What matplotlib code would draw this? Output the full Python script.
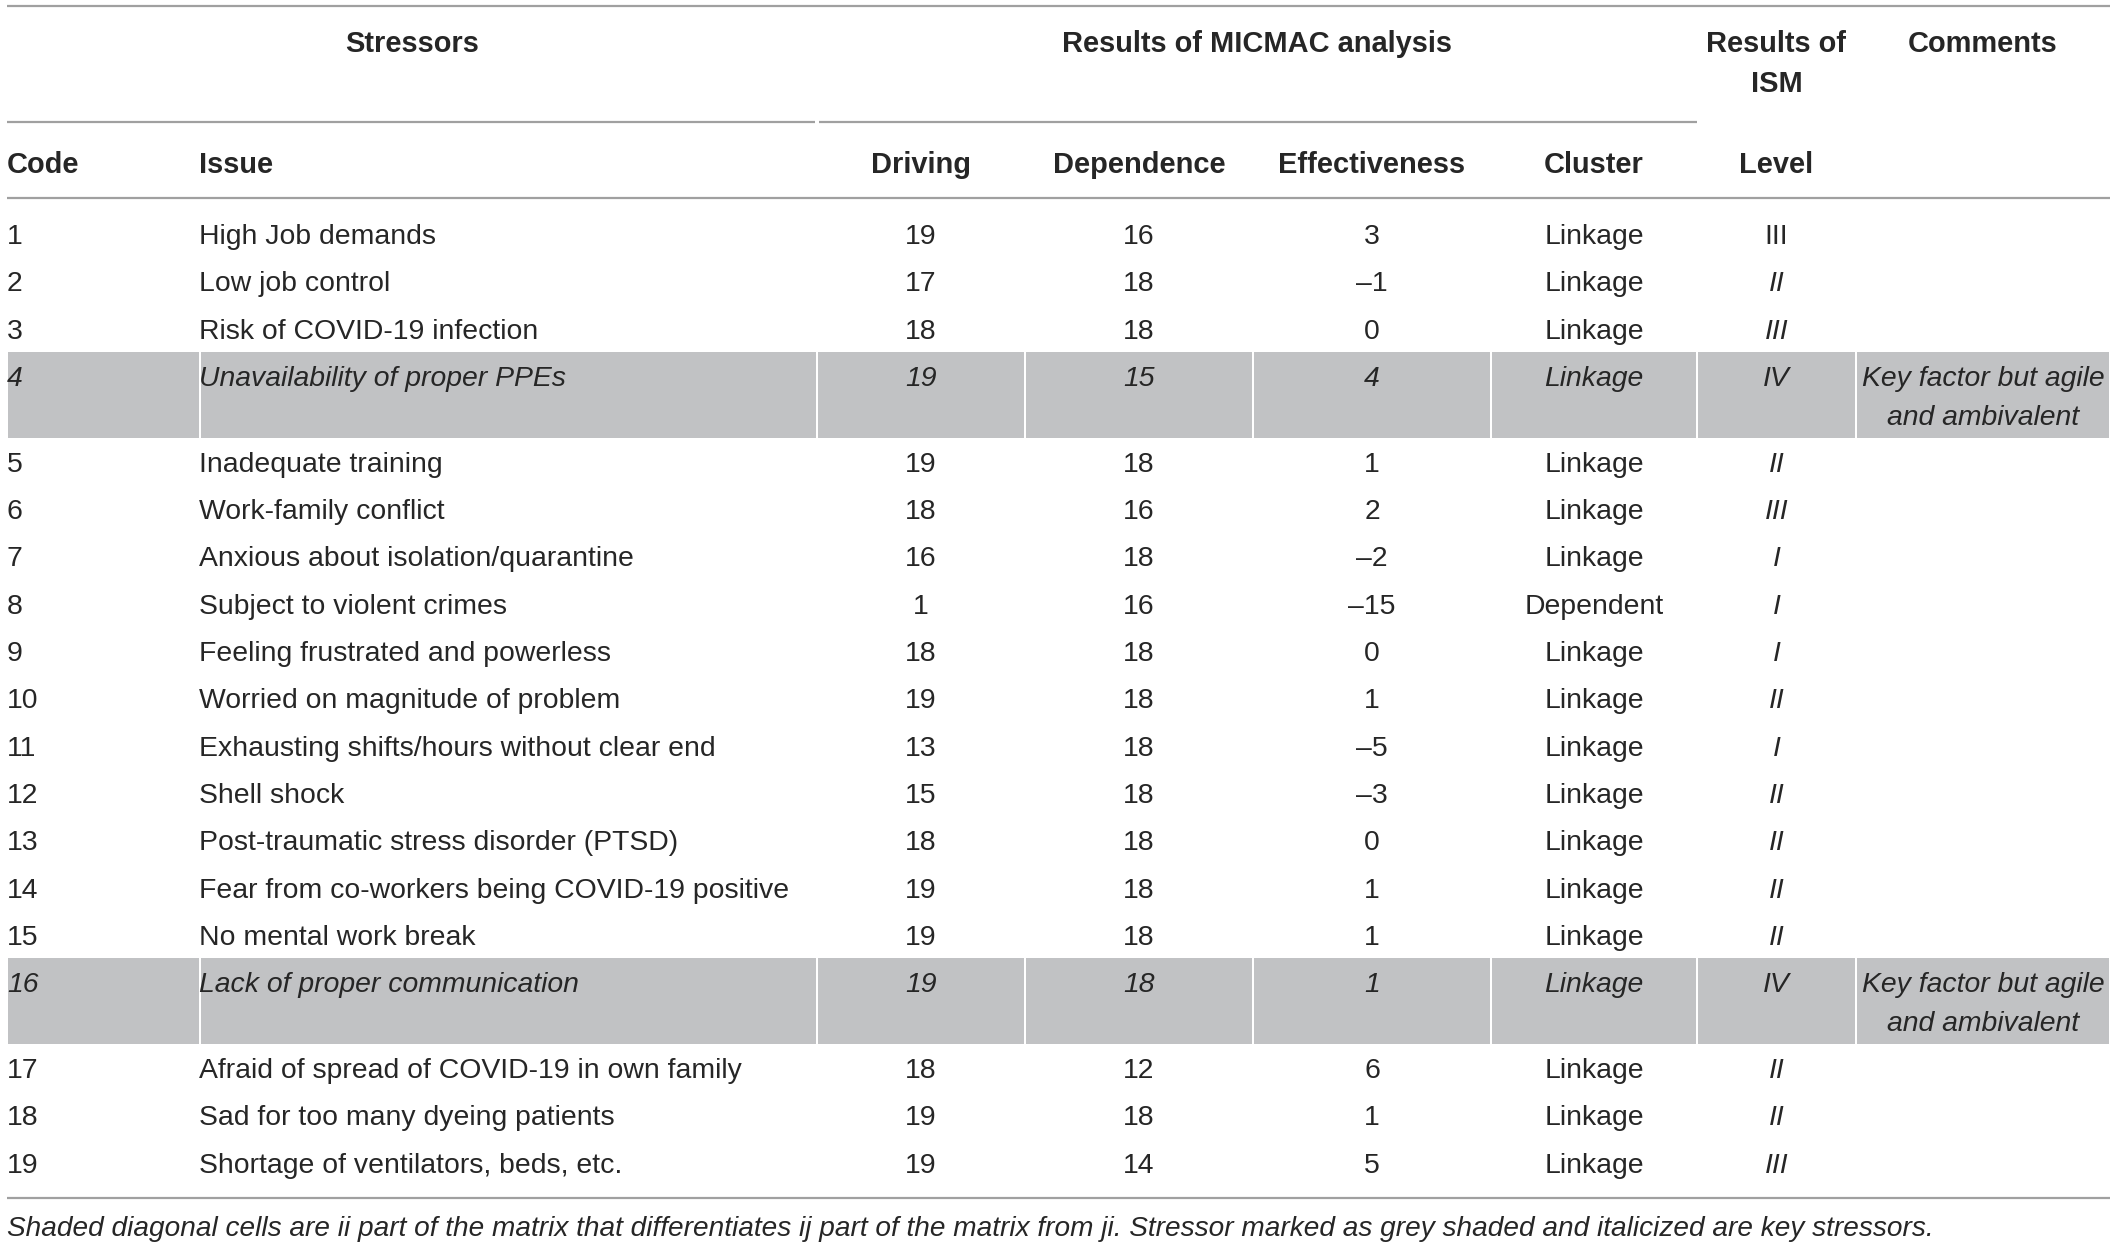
import matplotlib.pyplot as plt
from matplotlib.patches import Rectangle

# Dados da tabela
codigos = [str(i) for i in range(1, 20)]
questoes = [
    "High Job demands", "Low job control", "Risk of COVID-19 infection",
    "Unavailability of proper PPEs", "Inadequate training", "Work-family conflict",
    "Anxious about isolation/quarantine", "Subject to violent crimes",
    "Feeling frustrated and powerless", "Worried on magnitude of problem",
    "Exhausting shifts/hours without clear end", "Shell shock",
    "Post-traumatic stress disorder (PTSD)", "Fear from co-workers being COVID-19 positive",
    "No mental work break", "Lack of proper communication",
    "Afraid of spread of COVID-19 in own family", "Sad for too many dyeing patients",
    "Shortage of ventilators, beds, etc.",
]
driving = [19, 17, 18, 19, 19, 18, 16, 1, 18, 19, 13, 15, 18, 19, 19, 19, 18, 19, 19]
dependence = [16, 18, 18, 15, 18, 16, 18, 16, 18, 18, 18, 18, 18, 18, 18, 18, 12, 18, 14]
effectiveness = [3, -1, 0, 4, 1, 2, -2, -15, 0, 1, -5, -3, 0, 1, 1, 1, 6, 1, 5]
cluster = ["Linkage"] * 7 + ["Dependent"] + ["Linkage"] * 11
level = ["III", "II", "III", "IV", "II", "III", "I", "I", "I", "II",
         "I", "II", "II", "II", "II", "IV", "II", "II", "III"]
chave = [4, 16]  # estressores-chave (sombreados e em itálico)
comentario = ["Key factor but agile", "and ambivalent"]
nota = ("Shaded diagonal cells are ii part of the matrix that differentiates ij part "
        "of the matrix from ji. Stressor marked as grey shaded and italicized are key stressors.")

W, H = 2117, 1248
fig = plt.figure(figsize=(W / 100, H / 100), dpi=100)
ax = fig.add_axes([0, 0, 1, 1])
ax.set_xlim(0, W)
ax.set_ylim(H, 0)
ax.axis("off")

FONTE = "Liberation Sans"
FS = 20.4
FS_CAB = 20.9
COR = "#262626"
REGRA = "#a0a0a0"

# Limites das colunas
bordas = [7, 200, 817, 1025, 1253, 1491, 1697, 1856, 2110]
centros = [(bordas[i] + bordas[i + 1]) / 2 for i in range(len(bordas) - 1)]


def texto(x, y, s, ha="center", bold=False, italic=False, size=FS):
    ax.text(x, y + 3, s, ha=ha, va="center", fontsize=size, family=FONTE, color=COR,
            fontweight="bold" if bold else "normal",
            fontstyle="italic" if italic else "normal")


def regra(x0, x1, y):
    ax.plot([x0, x1], [y, y], color=REGRA, lw=1.6, solid_capstyle="butt")


# Linhas horizontais
regra(bordas[0], bordas[-1], 6)
regra(bordas[0], bordas[2] - 2, 122)
regra(bordas[2] + 2, bordas[6], 122)
regra(bordas[0], bordas[-1], 198)
regra(bordas[0], bordas[-1], 1198)

# Cabeçalhos
texto((bordas[0] + bordas[2]) / 2, 41, "Stressors", bold=True, size=FS_CAB)
texto((bordas[2] + bordas[6]) / 2, 41, "Results of MICMAC analysis", bold=True, size=FS_CAB)
texto(centros[6], 41, "Results of", bold=True, size=FS_CAB)
texto(centros[6], 81, "ISM", bold=True, size=FS_CAB)
texto(centros[7], 41, "Comments", bold=True, size=FS_CAB)
texto(bordas[0], 162, "Code", ha="left", bold=True, size=FS_CAB)
texto(bordas[1] - 1, 162, "Issue", ha="left", bold=True, size=FS_CAB)
for i, nome in enumerate(["Driving", "Dependence", "Effectiveness", "Cluster", "Level"]):
    texto(centros[i + 2], 162, nome, bold=True, size=FS_CAB)

# Linhas da tabela
y = 234
passo = 47.3
for i in range(len(codigos)):
    k = (i + 1) in chave
    if k:
        topo = y - 24
        alt = 86
        for c in range(len(bordas) - 1):
            ax.add_patch(Rectangle((bordas[c] + 1, topo), bordas[c + 1] - bordas[c] - 2, alt,
                                   facecolor="#c1c2c4", edgecolor="none"))
    ef = str(effectiveness[i]).replace("-", "\u2013")
    texto(bordas[0], y, codigos[i], ha="left", italic=k)
    texto(bordas[1] - 1, y, questoes[i], ha="left", italic=k)
    texto(centros[2], y, str(driving[i]), italic=k)
    texto(centros[3], y, str(dependence[i]), italic=k)
    texto(centros[4], y, ef, italic=k)
    texto(centros[5], y, cluster[i], italic=k)
    texto(centros[6], y, level[i], italic=(i != 0))
    if k:
        texto(centros[7], y, comentario[0], italic=True)
        texto(centros[7], y + 39, comentario[1], italic=True)
        y += 86
    else:
        y += passo

# Nota de rodapé
texto(bordas[0], 1226, nota, ha="left", italic=True, size=20.2)

fig.savefig("out.png", dpi=100)
